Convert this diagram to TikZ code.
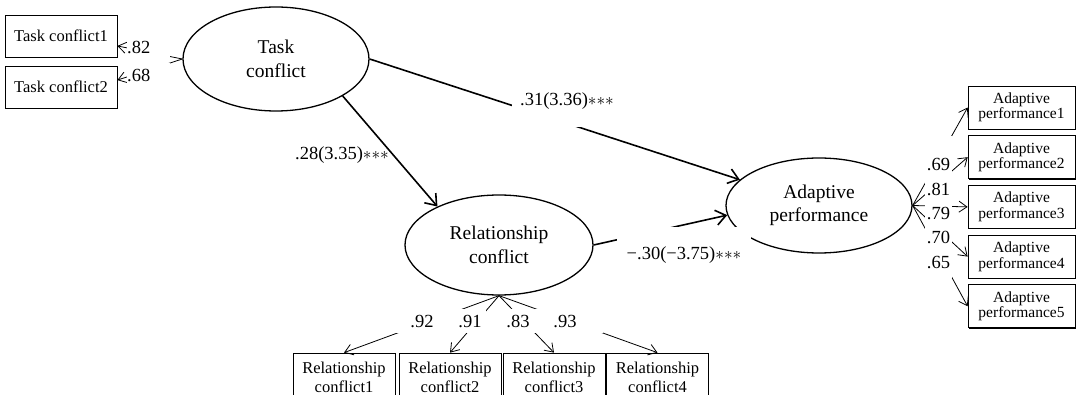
\documentclass[tikz,border=0pt]{standalone}
\usepackage{fontspec}
\setmainfont{Liberation Serif}
\usetikzlibrary{shapes.geometric,arrows.meta,shadows}

\begin{document}
\begin{tikzpicture}[x=1pt,y=-1pt,
  latent/.style={ellipse,draw,line width=1.3pt,inner sep=0pt,align=center,font=\fontsize{19.5}{23.5}\selectfont},
  obs/.style={draw,fill=white,line width=0.7pt,inner sep=0pt,align=center,font=\fontsize{15.5}{15.5}\selectfont,
    drop shadow={shadow xshift=0.9pt,shadow yshift=-0.9pt,opacity=1,fill=black}},
  effect/.style={line width=1.6pt,-{Straight Barb[length=10pt,width=15pt]}},
  load/.style={line width=0.8pt,-{Straight Barb[length=8pt,width=11pt]}},
  coef/.style={font=\fontsize{18.5}{18.5}\selectfont,inner sep=0pt},
  gap/.style={coef,fill=white,anchor=base}]
\useasboundingbox (0,0) rectangle (1077,395);

\node[latent,minimum width=186pt,minimum height=104pt] (tc) at (276,59) {Task\\conflict};
\node[latent,minimum width=188pt,minimum height=100pt] (rc) at (499,245) {Relationship\\conflict};
\node[latent,minimum width=186pt,minimum height=95pt] (ap) at (819,205.5) {Adaptive\\performance};

\node[obs,minimum width=112pt,minimum height=42pt,font=\fontsize{16.5}{16.5}\selectfont] (tc1) at (61,36) {Task conflict1};
\node[obs,minimum width=112pt,minimum height=42pt,font=\fontsize{16.5}{16.5}\selectfont] (tc2) at (61,87) {Task conflict2};
\foreach \i/\y in {1/107.5,2/157.2,3/206.9,4/256.6,5/306.3}
  \node[obs,minimum width=107pt,minimum height=43pt] (ap\i) at (1021.5,\y) {Adaptive\\performance\i};
\foreach \i/\x in {1/344,2/450,3/554,4/657.5}
  \node[obs,minimum width=102pt,minimum height=48pt,font=\fontsize{16.5}{19}\selectfont] (rc\i) at (\x,377) {Relationship\\conflict\i};

\draw[effect] (tc.east) -- (ap);
\draw[effect] (tc.-29) -- (rc.148);
\draw[effect] (rc.east) -- (ap.186);

\draw[load] (tc.west) -- (tc1.-10);
\draw[load] (tc.west) -- (tc2.7);
\foreach \i in {1,...,5}
  \draw[load] (ap.east) -- (ap\i.west);
\foreach \i in {1,...,4}
  \draw[load] (rc.south) -- (rc\i.north);

\node[coef] (b28) at (342,155) {.28(3.35)${\ast}{\ast}{\ast}$};
\node[gap,text height=16pt,text depth=21pt,inner xsep=8pt] (b31) at (567,106) {.31(3.36)${\ast}{\ast}{\ast}$};
\node[gap,text height=33pt,text depth=4pt,inner xsep=10pt] (b30) at (684,260) {−.30(−3.75)${\ast}{\ast}{\ast}$};

\node[gap,anchor=base west,text width=43pt,align=left,text height=15pt,text depth=8pt] (l82) at (127,54) {.82};
\node[gap,anchor=base west,text width=43pt,align=left,text height=19pt,text depth=6pt] (l68) at (127,82) {.68};

\node[gap,minimum width=27pt,text height=35pt,text depth=7pt] (l69) at (938.5,171) {.69};
\node[gap,minimum width=27pt,text height=18pt,text depth=5pt] (l81) at (938.5,196) {.81};
\node[gap,minimum width=27pt,text height=19pt,text depth=5pt] (l79) at (938.5,220) {.79};
\node[gap,minimum width=27pt,text height=19pt,text depth=6pt] (l70) at (938.5,244) {.70};
\node[gap,minimum width=27pt,text height=19pt,text depth=9pt] (l65) at (938.5,269) {.65};

\node[gap,minimum width=74pt,text height=19pt,text depth=5pt] (l92) at (422,328) {.92};
\node[gap,minimum width=76pt,text height=19pt,text depth=5pt] (l93) at (565,328) {.93};
\node[gap,minimum width=32pt,text height=19pt,text depth=5pt] (l91) at (470,328) {.91};
\node[gap,minimum width=34pt,text height=19pt,text depth=5pt] (l83) at (518,328) {.83};
\end{tikzpicture}
\end{document}
